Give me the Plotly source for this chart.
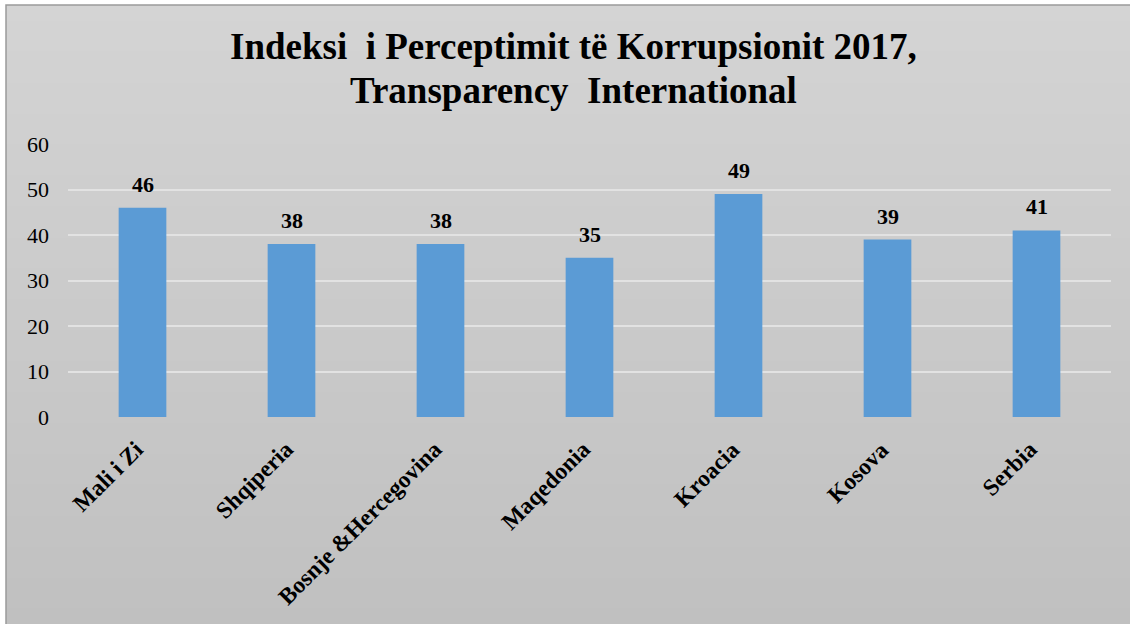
import plotly.graph_objects as go

categories = ["Mali i Zi", "Shqiperia", "Bosnje &Hercegovina", "Maqedonia", "Kroacia", "Kosova", "Serbia"]
values = [46, 38, 38, 35, 49, 39, 41]
y_ticks = [0, 10, 20, 30, 40, 50, 60]
title_lines = ["Indeksi  i Perceptimit të Korrupsionit 2017,", "Transparency  International"]

FONT = "Liberation Serif"

fig = go.Figure()
fig.add_trace(go.Bar(
    x=categories, y=values,
    marker=dict(color="#5B9BD5", line=dict(width=0)),
    width=0.32,
    hoverinfo="x+y",
))

for c, v in zip(categories, values):
    fig.add_annotation(x=c, y=v, text=str(v), showarrow=False,
                       yanchor="bottom", yshift=9,
                       font=dict(family=FONT, size=22, color="#000000", weight="bold"))

# category labels, rotated
for c in categories:
    fig.add_annotation(x=c, y=0, text=c, showarrow=False, textangle=-45,
                       xanchor="right", yanchor="top", xshift=9, yshift=-16,
                       font=dict(family=FONT, size=23.5, color="#000000", weight="bold"))

T, B = 5, 624
W, H = 1130, 624
px0, px1, py0, py1 = 68, 1111, 144, 417
def fx(x):
    return (x - px0) / (px1 - px0)
def fy(y):
    return (py1 - y) / (py1 - py0)

# title lines
for line, yc in zip(title_lines, [47, 90]):
    fig.add_annotation(xref="paper", yref="paper", x=fx(573), y=fy(yc),
                       text=line, showarrow=False, xanchor="center", yanchor="middle",
                       font=dict(family=FONT, size=37, color="#000000", weight="bold"))

shapes = []
n = 40
top_c = 212
bot_c = 192
x_left = 6
for i in range(n):
    y0 = T + (B - T) * i / n
    y1 = T + (B - T) * (i + 1) / n + 1
    c = round(top_c + (bot_c - top_c) * i / (n - 1))
    shapes.append(dict(type="rect", xref="paper", yref="paper",
                       x0=fx(x_left), x1=fx(W + 5), y0=fy(y1), y1=fy(y0),
                       fillcolor=f"rgb({c},{c},{c})", line=dict(width=0),
                       layer="below"))
shapes.append(dict(type="rect", xref="paper", yref="paper",
                   x0=fx(x_left), x1=fx(W + 5), y0=fy(B + 5), y1=fy(T),
                   fillcolor="rgba(0,0,0,0)", line=dict(width=1.5, color="#9a9a9a"),
                   layer="below"))

fig.update_layout(
    width=1130, height=624,
    margin=dict(l=px0, r=W - px1, t=py0, b=H - py1),
    paper_bgcolor="white",
    plot_bgcolor="rgba(0,0,0,0)",
    shapes=shapes,
    showlegend=False,
    bargap=0.68,
    xaxis=dict(
        range=[-0.5, len(categories) - 0.5],
        showticklabels=False,
        showgrid=False, zeroline=False, showline=False, ticks="",
    ),
    yaxis=dict(
        range=[0, 60], tickvals=y_ticks,
        tickfont=dict(family=FONT, size=22, color="#000000"),
        showgrid=True, gridcolor="#e2e2e2", gridwidth=2,
        zeroline=False, showline=False, ticks="", ticklabelstandoff=18,
    ),
)

fig.write_html("out.html", config={"displayModeBar": False},
               post_script="document.body.style.margin='0';")
